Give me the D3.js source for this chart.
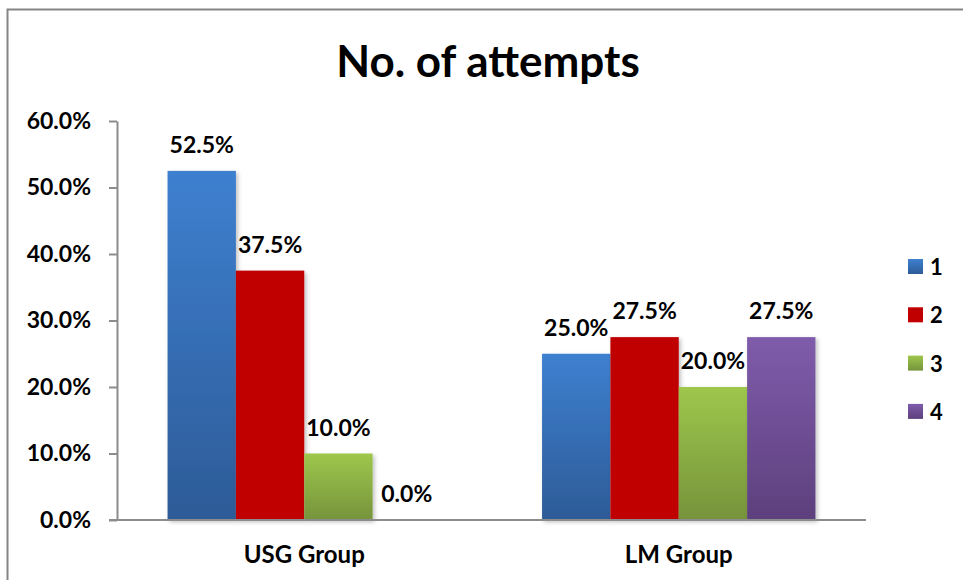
<!DOCTYPE html>
<html>
<head>
<meta charset="utf-8">
<script src="https://cdn.jsdelivr.net/npm/d3@7/dist/d3.min.js"></script>
<style>
  html, body { margin: 0; padding: 0; background: #fff; }
  svg { display: block; }
  text { font-family: Lato, "Open Sans", sans-serif; font-weight: bold; fill: #000; }
</style>
</head>
<body>
<svg id="chart" width="963" height="580"></svg>
<script>
// Share of patients by number of attempts, per group (percent)
const groups = ["USG Group", "LM Group"];
const seriesNames = ["1", "2", "3", "4"];
const attempts1 = [52.5, 25.0];
const attempts2 = [37.5, 27.5];
const attempts3 = [10.0, 20.0];
const attempts4 = [0.0, 27.5];
const yTicks = [0, 10, 20, 30, 40, 50, 60];
const chartTitle = "No. of attempts";

const seriesValues = [attempts1, attempts2, attempts3, attempts4];
const fills = [
  { top: "#3E80D0", bottom: "#2D5B97" },
  { top: "#C00000", bottom: "#C00000" },
  { top: "#9EC74C", bottom: "#76933B" },
  { top: "#7F5CAB", bottom: "#5D407D" }
];

const svg = d3.select("#chart");
const defs = svg.append("defs");

fills.forEach((f, i) => {
  const g = defs.append("linearGradient")
    .attr("id", "grad" + i)
    .attr("x1", 0).attr("y1", 0).attr("x2", 0).attr("y2", 1);
  g.append("stop").attr("offset", "0%").attr("stop-color", f.top);
  g.append("stop").attr("offset", "100%").attr("stop-color", f.bottom);
});

const shadow = defs.append("filter").attr("id", "barShadow")
  .attr("x", "-10%").attr("y", "-10%").attr("width", "130%").attr("height", "130%");
shadow.append("feDropShadow")
  .attr("dx", 2).attr("dy", 2).attr("stdDeviation", 2)
  .attr("flood-color", "#000").attr("flood-opacity", 0.25);

// Chart frame (top and left edges visible)
svg.append("path")
  .attr("d", "M7.5,580 L7.5,9.5 L963,9.5")
  .attr("fill", "none").attr("stroke", "#858585").attr("stroke-width", 2);

// Title
svg.append("text")
  .attr("x", 488).attr("y", 77)
  .attr("text-anchor", "middle")
  .style("font-size", "44px")
  .text(chartTitle);

const plot = { left: 117, right: 866, top: 121, bottom: 520 };

const x0 = d3.scaleBand()
  .domain(groups)
  .range([plot.left, plot.right])
  .paddingInner(0.27)
  .paddingOuter(0.135);

const x1 = d3.scaleBand()
  .domain(d3.range(seriesNames.length))
  .range([0, x0.bandwidth()])
  .padding(0);

const y = d3.scaleLinear().domain([0, 60]).range([plot.bottom, plot.top]);

// Bars
const groupSel = svg.append("g").selectAll("g")
  .data(groups)
  .join("g")
  .attr("transform", d => `translate(${x0(d)},0)`);

groupSel.selectAll("rect")
  .data((g, gi) => seriesValues.map((vals, si) => ({ si, v: vals[gi] })))
  .join("rect")
  .filter(d => d.v > 0)
  .attr("x", d => x1(d.si))
  .attr("y", d => y(d.v))
  .attr("width", x1.bandwidth())
  .attr("height", d => y(0) - y(d.v))
  .attr("fill", d => `url(#grad${d.si})`)
  .attr("filter", "url(#barShadow)");

// Value labels
groupSel.selectAll("text.value")
  .data((g, gi) => seriesValues.map((vals, si) => ({ si, v: vals[gi] })))
  .join("text")
  .attr("class", "value")
  .attr("x", d => x1(d.si) + x1.bandwidth() / 2)
  .attr("y", d => y(d.v) - 18)
  .attr("text-anchor", "middle")
  .style("font-size", "23px")
  .text(d => d.v.toFixed(1) + "%");

// Y axis
const yAxis = d3.axisLeft(y)
  .tickValues(yTicks)
  .tickSize(8)
  .tickSizeOuter(0)
  .tickPadding(18)
  .tickFormat(d => d.toFixed(1) + "%");

const yg = svg.append("g")
  .attr("transform", `translate(${plot.left},0)`)
  .call(yAxis);
yg.select(".domain").attr("stroke", "#8c8c8c").attr("stroke-width", 2);
yg.selectAll(".tick line").attr("stroke", "#8c8c8c").attr("stroke-width", 2);
yg.selectAll(".tick text")
  .attr("fill", "#000")
  .style("font-family", "Lato, 'Open Sans', sans-serif")
  .style("font-weight", "bold")
  .style("font-size", "23px");

// X axis
const xAxis = d3.axisBottom(x0).tickSize(0).tickPadding(26);
const xg = svg.append("g")
  .attr("transform", `translate(0,${plot.bottom})`)
  .call(xAxis);
xg.select(".domain").remove();
xg.append("line")
  .attr("x1", plot.left - 8).attr("x2", plot.right)
  .attr("y1", 0).attr("y2", 0)
  .attr("stroke", "#8c8c8c").attr("stroke-width", 2);
xg.selectAll(".tick text")
  .attr("fill", "#000")
  .style("font-family", "Lato, 'Open Sans', sans-serif")
  .style("font-weight", "bold")
  .style("font-size", "24px");

// Legend
const legend = svg.append("g").attr("transform", "translate(908,259)");
const item = legend.selectAll("g")
  .data(seriesNames)
  .join("g")
  .attr("transform", (d, i) => `translate(0,${i * 48.3})`);
item.append("rect")
  .attr("width", 15).attr("height", 15)
  .attr("fill", (d, i) => `url(#grad${i})`);
item.append("text")
  .attr("x", 22).attr("y", 16)
  .style("font-size", "22px")
  .text(d => d);
</script>
</body>
</html>
